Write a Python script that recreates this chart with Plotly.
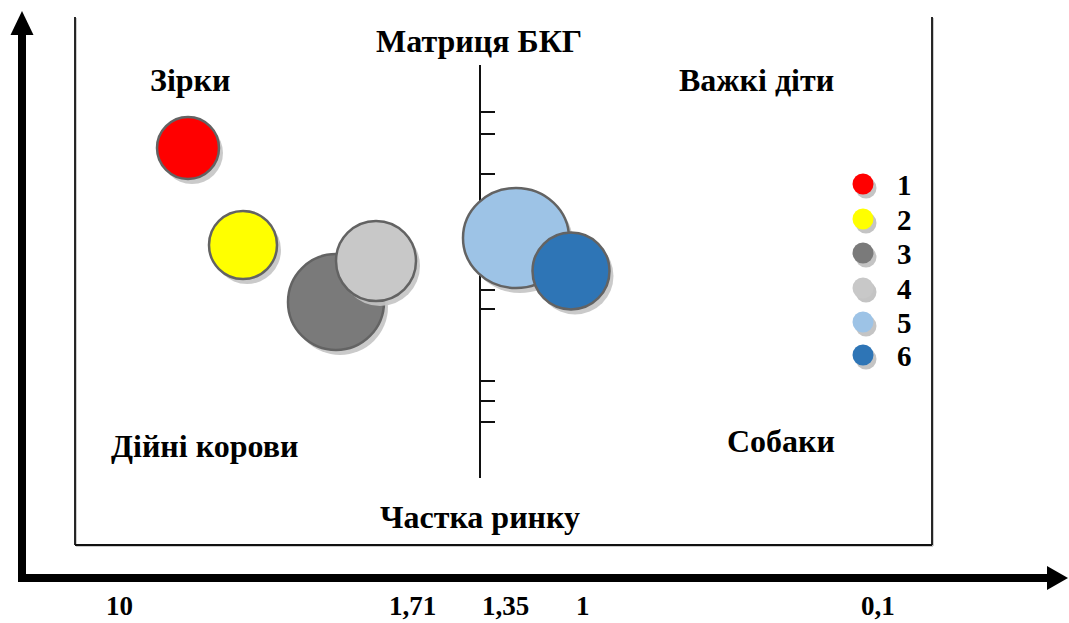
import plotly.graph_objects as go

# --- Data -------------------------------------------------------------
# Bubble centres on the share (x) / growth (y) plane, with radii per axis
bubble_ids = ["1", "2", "3", "4", "5", "6"]
bubble_x = [188, 243, 336, 376, 516, 571]
bubble_y = [148, 245, 302, 261, 238, 271]
bubble_rx = [31, 34, 48, 40, 53, 38.5]
bubble_ry = [31, 34, 48, 40, 50, 38.5]
bubble_colors = ["#FF0000", "#FFFF00", "#7A7A7A", "#C8C8C8", "#9DC3E6", "#2E75B6"]

# Market-share tick labels along the bottom arrow
share_labels = ["10", "1,71", "1,35", "1", "0,1"]
share_pos = [119, 412, 505, 583, 878]

# Growth tick marks on the central divider
growth_ticks = [112, 134, 174, 290, 309, 381, 401, 422]

# Quadrant names
quadrant_names = ["Зірки", "Важкі діти", "Дійні корови", "Собаки"]
quadrant_x = [190, 756, 204, 781]
quadrant_y = [80, 80, 446, 441]

# Legend rows
legend_y = [184, 219, 253, 288, 322, 355]

W, H = 1069, 623
FONT = "Liberation Serif"
OUTLINE = "#636363"
SHADOW = "#C4C4C4"

fig = go.Figure()
shapes = []

# Outer axis arrows
shapes.append(dict(type="line", x0=22, x1=22, y0=582, y1=34,
                   line=dict(color="black", width=8)))
shapes.append(dict(type="path", path="M 22 11 L 10.5 35 L 33.5 35 Z",
                   fillcolor="black", line=dict(color="black", width=0)))
shapes.append(dict(type="line", x0=18, x1=1048, y0=578, y1=578,
                   line=dict(color="black", width=8)))
shapes.append(dict(type="path", path="M 1068 578 L 1047 566 L 1047 590 Z",
                   fillcolor="black", line=dict(color="black", width=0)))

# Inner frame (left, bottom, right)
for (x0, y0, x1, y1) in [(75, 17, 75, 545), (75, 545, 932, 545), (932, 17, 932, 545)]:
    shapes.append(dict(type="line", x0=x0 + 1, y0=y0 + 1, x1=x1 + 1, y1=y1 + 1,
                       line=dict(color="#BBBBBB", width=1.5)))
    shapes.append(dict(type="line", x0=x0, y0=y0, x1=x1, y1=y1,
                       line=dict(color="#111111", width=1.8)))

# Central divider with its tick marks
shapes.append(dict(type="line", x0=480, x1=480, y0=65, y1=478,
                   line=dict(color="#111111", width=2)))
for ty in growth_ticks:
    shapes.append(dict(type="line", x0=480, x1=495, y0=ty, y1=ty,
                       line=dict(color="#111111", width=2)))

# Bubbles, each with an offset drop shadow
for cx, cy, rx, ry, col in zip(bubble_x, bubble_y, bubble_rx, bubble_ry, bubble_colors):
    shapes.append(dict(type="circle", x0=cx - rx + 4, x1=cx + rx + 4,
                       y0=cy - ry + 5, y1=cy + ry + 5,
                       fillcolor=SHADOW, line=dict(width=0), opacity=0.9))
    shapes.append(dict(type="circle", x0=cx - rx, x1=cx + rx,
                       y0=cy - ry, y1=cy + ry,
                       fillcolor=col, line=dict(color=OUTLINE, width=2.5)))

# Legend markers with shadows
fig.add_trace(go.Scatter(x=[866] * 6, y=[v + 4 for v in legend_y], mode="markers",
                         marker=dict(size=21, color=SHADOW), hoverinfo="skip",
                         showlegend=False))
fig.add_trace(go.Scatter(x=[863] * 6, y=legend_y, mode="markers",
                         marker=dict(size=21, color=bubble_colors, line=dict(width=0)),
                         hoverinfo="skip", showlegend=False))

annotations = []
for lab, ly in zip(bubble_ids, legend_y):
    annotations.append(dict(x=904, y=ly + 1, text=lab, showarrow=False,
                            font=dict(family=FONT, size=29, color="black", weight="bold")))

for name, qx, qy in zip(quadrant_names, quadrant_x, quadrant_y):
    annotations.append(dict(x=qx, y=qy, text=name, showarrow=False,
                            font=dict(family=FONT, size=32, color="black", weight="bold")))

annotations.append(dict(x=479, y=41, text="Матриця БКГ", showarrow=False,
                        font=dict(family=FONT, size=32, color="black", weight="bold")))
annotations.append(dict(x=480, y=517, text="Частка ринку", showarrow=False,
                        font=dict(family=FONT, size=32, color="black", weight="bold")))

for lab, px in zip(share_labels, share_pos):
    annotations.append(dict(x=px, y=606, text=lab, showarrow=False, borderpad=0,
                            font=dict(family=FONT, size=27, color="black", weight="bold")))

fig.update_layout(
    width=W, height=H,
    margin=dict(l=0, r=0, t=0, b=0),
    paper_bgcolor="white", plot_bgcolor="white",
    xaxis=dict(range=[0, W], visible=False, fixedrange=True),
    yaxis=dict(range=[H, 0], visible=False, fixedrange=True),
    shapes=shapes,
    annotations=annotations,
)

fig.write_html("out.html")
